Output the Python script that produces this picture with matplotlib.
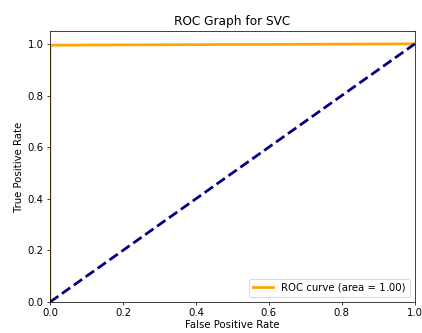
import matplotlib
matplotlib.use("Agg")
import matplotlib.pyplot as plt

fpr = [0.0, 0.0, 0.004, 1.0]
tpr = [0.0, 0.99, 0.995, 1.0]
roc_auc = 1.00
diag = [0.0, 1.0]

plt.rcParams['font.size'] = 11
fig = plt.figure(figsize=(422/66, 333/66), dpi=66)
ax = fig.add_axes([0.1185, 0.093, 0.8645, 0.814])
ax.plot(fpr, tpr, color='orange', lw=3, label='ROC curve (area = %0.2f)' % roc_auc)
ax.plot(diag, diag, color='navy', lw=3, linestyle='--')
ax.set_xlim([0.0, 1.0])
ax.set_ylim([0.0, 1.05])
ax.set_xlabel('False Positive Rate', labelpad=2)
ax.set_ylabel('True Positive Rate')
ax.set_title('ROC Graph for SVC')
ax.legend(loc='lower right')
fig.savefig('out.png', dpi=66)
